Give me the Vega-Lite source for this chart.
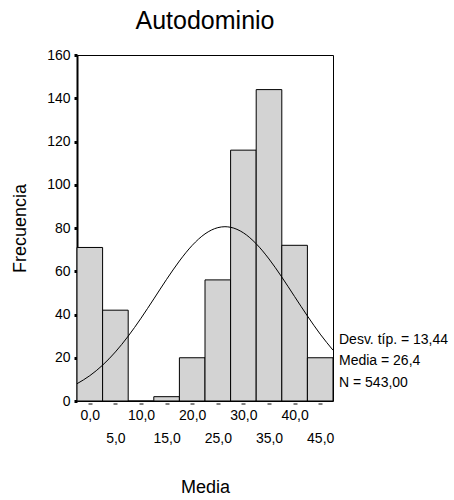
{
  "$schema": "https://vega.github.io/schema/vega-lite/v6.json",
  "width": 256,
  "height": 346,
  "autosize": {"type": "none"},
  "padding": {"left": 77, "top": 55, "right": 121, "bottom": 99},
  "title": {"text": "Autodominio", "fontSize": 25, "font": "Liberation Sans", "fontWeight": "normal", "color": "black", "offset": 14, "anchor": "middle"},
  "config": {
    "font": "Liberation Sans",
    "view": {"stroke": "black", "strokeWidth": 1}
  },
  "resolve": {"axis": {"x": "independent"}},
  "layer": [
    {
      "data": {"values": [
        {"bin_start": -2.5, "bin_end": 2.5, "count": 71},
        {"bin_start": 2.5, "bin_end": 7.5, "count": 42},
        {"bin_start": 7.5, "bin_end": 12.5, "count": 0},
        {"bin_start": 12.5, "bin_end": 17.5, "count": 2},
        {"bin_start": 17.5, "bin_end": 22.5, "count": 20},
        {"bin_start": 22.5, "bin_end": 27.5, "count": 56},
        {"bin_start": 27.5, "bin_end": 32.5, "count": 116},
        {"bin_start": 32.5, "bin_end": 37.5, "count": 144},
        {"bin_start": 37.5, "bin_end": 42.5, "count": 72},
        {"bin_start": 42.5, "bin_end": 47.5, "count": 20}
      ]},
      "mark": {"type": "bar", "fill": "#d3d3d3", "stroke": "black", "strokeWidth": 1},
      "encoding": {
        "x": {
          "field": "bin_start", "type": "quantitative",
          "scale": {"domain": [-2.5, 47.5], "nice": false, "zero": false},
          "axis": {
            "orient": "bottom",
            "values": [0, 5, 10, 15, 20, 25, 30, 35, 40, 45],
            "domain": false,
            "offset": 2,
            "tickSize": 1,
            "tickWidth": 4,
            "tickColor": "black",
            "labelFontSize": 14,
            "labelColor": "black",
            "labelPadding": 4,
            "labelBaseline": "top",
            "labelFlush": false,
            "labelOverlap": false,
            "labelExpr": "datum.value % 10 == 0 ? replace(format(datum.value, '.1f'), '.', ',') : ''",
            "grid": false,
            "title": "Media",
            "titleFontSize": 18,
            "titleFontWeight": "normal",
            "titleColor": "black",
            "titlePadding": 56
          }
        },
        "x2": {"field": "bin_end"},
        "y": {
          "field": "count", "type": "quantitative",
          "scale": {"domain": [0, 160], "nice": false},
          "axis": {
            "values": [0, 20, 40, 60, 80, 100, 120, 140, 160],
            "domainColor": "black",
            "domainWidth": 2,
            "tickSize": 3,
            "tickWidth": 3,
            "tickColor": "black",
            "labelFontSize": 14,
            "labelColor": "black",
            "labelPadding": 4,
            "grid": false,
            "title": "Frecuencia",
            "titleFontSize": 18,
            "titleFontWeight": "normal",
            "titleColor": "black",
            "titlePadding": 17
          }
        },
        "y2": {"datum": 0}
      }
    },
    {
      "data": {"values": [
        {"x": -2.5, "y": 7.99},
        {"x": 0, "y": 11.71},
        {"x": 2.5, "y": 16.58},
        {"x": 5, "y": 22.69},
        {"x": 7.5, "y": 29.98},
        {"x": 10, "y": 38.28},
        {"x": 12.5, "y": 47.21},
        {"x": 15, "y": 56.25},
        {"x": 17.5, "y": 64.73},
        {"x": 20, "y": 71.96},
        {"x": 22.5, "y": 77.28},
        {"x": 25, "y": 80.16},
        {"x": 26.4, "y": 80.6},
        {"x": 27.5, "y": 80.33},
        {"x": 30, "y": 77.77},
        {"x": 32.5, "y": 72.71},
        {"x": 35, "y": 65.68},
        {"x": 37.5, "y": 57.31},
        {"x": 40, "y": 48.3},
        {"x": 42.5, "y": 39.33},
        {"x": 45, "y": 30.93},
        {"x": 47.5, "y": 23.5}
      ]},
      "mark": {"type": "line", "color": "black", "strokeWidth": 1, "interpolate": "monotone"},
      "encoding": {
        "x": {
          "field": "x", "type": "quantitative",
          "axis": {
            "orient": "bottom",
            "values": [5, 15, 25, 35, 45],
            "domain": false,
            "ticks": false,
            "offset": 2,
            "labelFontSize": 14,
            "labelColor": "black",
            "labelPadding": 28,
            "labelBaseline": "top",
            "labelFlush": false,
            "labelOverlap": false,
            "labelExpr": "replace(format(datum.value, '.1f'), '.', ',')",
            "grid": false,
            "title": null
          }
        },
        "y": {"field": "y", "type": "quantitative"}
      }
    },
    {
      "data": {"values": [
        {"label": "Desv. típ. = 13,44", "y": 28.2},
        {"label": "Media = 26,4", "y": 18.4},
        {"label": "N = 543,00", "y": 8.3}
      ]},
      "mark": {"type": "text", "align": "left", "baseline": "middle", "dx": 6, "fontSize": 14, "color": "black"},
      "encoding": {
        "x": {"datum": 47.5, "axis": null},
        "y": {"field": "y", "type": "quantitative"},
        "text": {"field": "label"}
      }
    }
  ]
}
